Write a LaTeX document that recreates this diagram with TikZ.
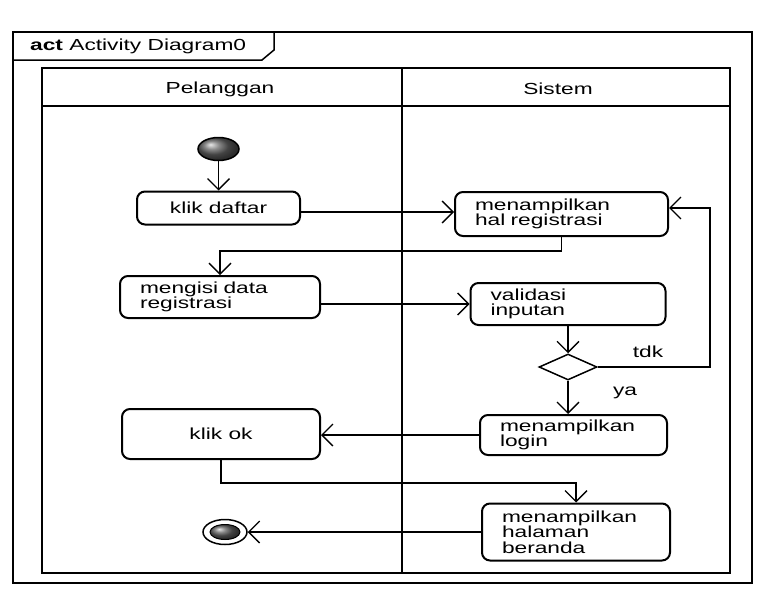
\documentclass[tikz,border=0pt]{standalone}
\usepackage{fontspec}
\setmainfont{Liberation Sans}[FakeStretch=1.42]
\usetikzlibrary{arrows.meta,shapes.geometric}
\begin{document}
\begin{tikzpicture}[x=1pt,y=-1pt,
  txt/.style={font=\fontsize{16}{15.5}\selectfont, inner sep=0pt},
  actbox/.style={draw, line width=2pt, rounded corners=8pt, fill=white,
    font=\fontsize{16}{15.5}\selectfont, inner xsep=20pt, inner ysep=0pt, align=left},
  onebox/.style={draw, line width=2pt, rounded corners=8pt, fill=white,
    font=\fontsize{16}{15.5}\selectfont, inner sep=0pt, align=center},
  lane/.style={line width=2.4pt},
  frameline/.style={line width=1.5pt},
  arr/.style={line width=1.3pt, -{Straight Barb[length=11pt,width=22pt,line width=1.3pt]}},
  conn/.style={line width=1.3pt}
]
\useasboundingbox (0,0) rectangle (759,597);
\fill[white] (0,0) rectangle (759,597);

% outer frame and tab
\draw[frameline] (13,32) rectangle (752,583);
\draw[frameline] (13,60) -- (262,60) -- (274,50) -- (274,32);
\node[txt, anchor=west] (title) at (30,46) {\textbf{act} Activity Diagram0};

% swimlanes
\draw[lane] (42,68) rectangle (730,573);
\draw[lane] (402,68) -- (402,573);
\draw[lane] (42,106) -- (730,106);
\node[txt] (pel) at (220,89) {Pelanggan};
\node[txt] (sis) at (558,89) {Sistem};

% nodes
\node[ellipse, draw, line width=1.5pt, minimum width=41pt, minimum height=23pt,
  inner sep=0pt, shading=ball, ball color=gray!75!black] (init) at (218.5,149) {};
\node[onebox, minimum width=163pt, minimum height=33pt] (kd) at (218.5,208) {klik daftar};
\node[actbox, text width=173pt, minimum height=44pt] (mhr) at (561.5,214) {menampilkan\\hal registrasi};
\node[actbox, text width=160pt, minimum height=42pt] (mdr) at (220,297) {mengisi data\\registrasi};
\node[actbox, text width=155pt, minimum height=42pt] (vi) at (568,304) {validasi\\inputan};
\node[diamond, draw, line width=1.5pt, minimum width=58pt, minimum height=26pt,
  inner sep=0pt, fill=white] (dec) at (568,367) {};
\node[onebox, minimum width=198pt, minimum height=50pt] (ko) at (221,434) {klik ok};
\node[actbox, text width=147pt, minimum height=40pt] (ml) at (573.5,435) {menampilkan\\login};
\node[actbox, text width=148pt, minimum height=57pt] (ber) at (576,532) {menampilkan\\halaman\\beranda};
\node[ellipse, draw, line width=1.5pt, minimum width=44pt, minimum height=25pt,
  inner sep=0pt] (fin) at (225,532) {};
\node[ellipse, draw, line width=1pt, minimum width=30pt, minimum height=15pt,
  inner sep=0pt, shading=ball, ball color=gray!75!black] (finin) at (fin.center) {};

\node[txt] (tdk) at (648,352) {tdk};
\node[txt] (ya) at (625,393) {ya};
\coordinate (loopx) at (710,367);

% connectors
\draw[arr] (init.south) -- (init.south |- kd.north);
\draw[arr] ([yshift=-4pt]kd.east) -- ([yshift=-4pt]kd.east -| mhr.west);
\draw[arr] (mhr.south) -- ++(0,14) -| (mdr.north);
\draw[arr] (mdr.east |- vi.west) -- (vi.west);
\draw[arr] (vi.south) -- (dec.north);
\draw[arr] (dec.east) -- (loopx) |- ([yshift=6pt]mhr.east);
\draw[arr] (dec.south) -- (dec.south |- ml.north);
\draw[arr] (ml.west) -- (ml.west -| ko.east);
\draw[arr] (ko.south) -- ++(0,23) -| (ber.north);
\draw[arr] (ber.west) -- (fin.east);
\end{tikzpicture}
\end{document}
